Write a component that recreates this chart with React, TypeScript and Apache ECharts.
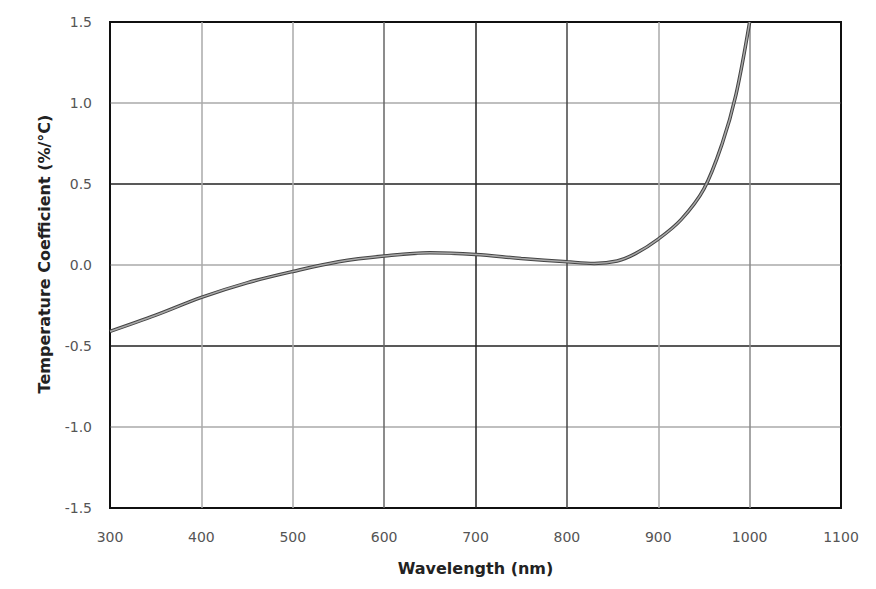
import React, { useEffect, useRef } from "react";
import * as echarts from "echarts";

const wavelengths = [300, 350, 400, 450, 500, 550, 600, 650, 700, 750, 800, 830, 855, 875, 900, 925, 950, 970, 985, 1000];
const coefficients = [-0.41, -0.31, -0.2, -0.11, -0.04, 0.02, 0.055, 0.075, 0.065, 0.04, 0.02, 0.01, 0.025, 0.07, 0.16, 0.28, 0.47, 0.75, 1.05, 1.5];

const xTickMin = 300;
const xTickMax = 1100;
const yTickMin = -1.5;
const yTickMax = 1.5;

const xTitle = "Wavelength (nm)";
const yTitle = "Temperature Coefficient (%/°C)";

export default function App() {
  const ref = useRef<HTMLDivElement>(null);
  useEffect(() => {
    if (!ref.current) return;
    const chart = echarts.init(ref.current, null, { renderer: "svg" });
    const data = wavelengths.map((w, i) => [w, coefficients[i]]);
    const font = "DejaVu Sans";
    chart.setOption({
      animation: false,
      backgroundColor: "#ffffff",
      grid: {
        left: 110,
        top: 22,
        right: 35,
        bottom: 81,
        show: true,
        borderColor: "#111",
        borderWidth: 2,
        backgroundColor: "transparent",
      },
      xAxis: {
        type: "value",
        min: xTickMin,
        max: xTickMax,
        interval: 100,
        name: xTitle,
        nameLocation: "middle",
        nameGap: 52,
        nameTextStyle: { fontFamily: font, fontWeight: "bold", fontSize: 16, color: "#222" },
        axisLine: { show: false },
        axisTick: { show: false },
        axisLabel: { fontFamily: font, fontSize: 14, color: "#555", margin: 22, formatter: (v: number) => String(v) },
        splitLine: {
          show: true,
          lineStyle: {
            width: 1.5,
            color: ["#111", "#aaa", "#aaa", "#666", "#222", "#444", "#aaa", "#888", "#111"],
          },
        },
      },
      yAxis: {
        type: "value",
        min: yTickMin,
        max: yTickMax,
        interval: 0.5,
        name: yTitle,
        nameLocation: "middle",
        nameGap: 58,
        nameTextStyle: { fontFamily: font, fontWeight: "bold", fontSize: 16, color: "#222", padding: [0, 0, 0, 22] },
        axisLine: { show: false },
        axisTick: { show: false },
        axisLabel: {
          fontFamily: font,
          fontSize: 14,
          color: "#555",
          margin: 18,
          formatter: (v: number) => v.toFixed(1),
        },
        splitLine: {
          show: true,
          lineStyle: {
            width: 1.5,
            color: ["#111", "#aaa", "#222", "#aaa", "#222", "#aaa", "#111"],
          },
        },
      },
      series: [
        {
          type: "line",
          data,
          smooth: 0.35,
          symbol: "none",
          lineStyle: { color: "#444", width: 3.5 },
          z: 3,
        },
        {
          type: "line",
          data,
          smooth: 0.35,
          symbol: "none",
          lineStyle: { color: "#a8a8a8", width: 1.5 },
          z: 4,
        },
      ],
    });
    return () => chart.dispose();
  }, []);
  return <div ref={ref} style={{ width: 876, height: 589, position: "absolute", left: 0, top: 0 }} />;
}
